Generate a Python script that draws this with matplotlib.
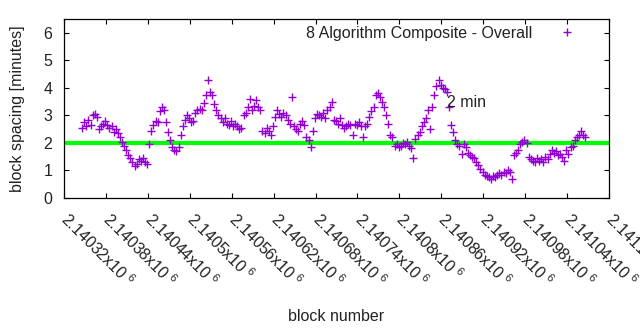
import matplotlib
matplotlib.use("Agg")
import matplotlib.pyplot as plt

plt.rcParams['font.family'] = ['Liberation Sans', 'DejaVu Sans']
plt.rcParams['mathtext.default'] = 'regular'
plt.rcParams['font.size'] = 11.5

blocks = [
    2140346, 2140349, 2140352, 2140355, 2140358, 2140361, 2140364, 2140367, 2140370, 2140373,
    2140376, 2140379, 2140382, 2140385, 2140388, 2140391, 2140394, 2140397, 2140400, 2140403,
    2140406, 2140409, 2140412, 2140415, 2140418, 2140421, 2140424, 2140427, 2140430, 2140433,
    2140436, 2140439, 2140442, 2140445, 2140448, 2140451, 2140454, 2140457, 2140460, 2140463,
    2140466, 2140469, 2140472, 2140475, 2140478, 2140481, 2140484, 2140487, 2140490, 2140493,
    2140496, 2140499, 2140502, 2140505, 2140508, 2140511, 2140514, 2140517, 2140520, 2140523,
    2140526, 2140529, 2140532, 2140535, 2140538, 2140541, 2140544, 2140547, 2140550, 2140553,
    2140556, 2140559, 2140562, 2140565, 2140568, 2140571, 2140574, 2140577, 2140580, 2140583,
    2140586, 2140589, 2140592, 2140595, 2140598, 2140601, 2140604, 2140607, 2140610, 2140613,
    2140616, 2140619, 2140622, 2140625, 2140628, 2140631, 2140634, 2140637, 2140640, 2140643,
    2140646, 2140649, 2140652, 2140655, 2140658, 2140661, 2140664, 2140667, 2140670, 2140673,
    2140676, 2140679, 2140682, 2140685, 2140688, 2140691, 2140694, 2140697, 2140700, 2140703,
    2140706, 2140709, 2140712, 2140715, 2140718, 2140721, 2140724, 2140727, 2140730, 2140733,
    2140736, 2140739, 2140742, 2140745, 2140748, 2140751, 2140754, 2140757, 2140760, 2140763,
    2140766, 2140769, 2140772, 2140775, 2140778, 2140781, 2140784, 2140787, 2140790, 2140793,
    2140796, 2140799, 2140802, 2140805, 2140808, 2140811, 2140814, 2140817, 2140820, 2140823,
    2140826, 2140829, 2140832, 2140835, 2140838, 2140841, 2140844, 2140847, 2140850, 2140853,
    2140856, 2140859, 2140862, 2140865, 2140868, 2140871, 2140874, 2140877, 2140880, 2140883,
    2140886, 2140889, 2140892, 2140895, 2140898, 2140901, 2140904, 2140907, 2140910, 2140913,
    2140916, 2140919, 2140922, 2140925, 2140928, 2140931, 2140934, 2140937, 2140940, 2140943,
    2140946, 2140949, 2140952, 2140955, 2140958, 2140961, 2140964, 2140967, 2140970, 2140973,
    2140976, 2140979, 2140982, 2140985, 2140988, 2140991, 2140994, 2140997, 2141000, 2141003,
    2141006, 2141009, 2141012, 2141015, 2141018, 2141021, 2141024, 2141027, 2141030, 2141033,
    2141036, 2141039, 2141042, 2141045, 2141048, 2141051, 2141054, 2141057, 2141060, 2141063,
    2141066,
]
spacing = [
    2.55, 2.75, 2.60, 2.85, 2.65, 3.00, 3.05, 2.95, 2.50, 2.60,
    2.70, 2.80, 2.65, 2.55, 2.60, 2.40, 2.50, 2.35, 2.20, 2.05,
    1.90, 1.75, 1.55, 1.45, 1.30, 1.15, 1.25, 1.40, 1.35, 1.45,
    1.30, 1.25, 1.95, 2.45, 2.65, 2.80, 2.75, 3.15, 3.30, 3.20,
    2.75, 2.40, 2.10, 1.85, 1.75, 1.70, 1.85, 2.30, 2.60, 2.85,
    3.00, 2.90, 2.75, 2.80, 3.10, 3.20, 3.25, 3.20, 3.45, 3.75,
    4.30, 3.85, 3.75, 3.40, 3.20, 3.00, 2.90, 2.75, 2.90, 2.70,
    2.65, 2.80, 2.60, 2.70, 2.60, 2.50, 2.55, 3.00, 3.10, 3.30,
    3.60, 3.20, 3.35, 3.55, 3.30, 3.20, 2.45, 2.35, 2.55, 2.45,
    2.30, 2.60, 2.95, 3.20, 3.05, 2.95, 3.10, 3.00, 2.85, 2.70,
    3.65, 2.60, 2.50, 2.45, 2.70, 2.80, 2.65, 2.20, 2.10, 1.85,
    2.45, 2.90, 3.05, 3.00, 2.95, 3.10, 2.90, 3.20, 3.30, 3.50,
    2.85, 2.80, 2.70, 2.90, 2.65, 2.55, 2.60, 2.70, 2.65, 2.30,
    2.70, 2.65, 2.75, 2.60, 2.20, 2.60, 2.70, 2.95, 3.15, 3.30,
    3.75, 3.80, 3.65, 3.50, 3.30, 3.00, 2.70, 2.30, 2.20, 1.90,
    1.95, 1.85, 1.90, 2.00, 1.95, 2.05, 1.90, 1.80, 1.45, 2.15,
    2.30, 2.40, 2.60, 2.75, 2.90, 3.20, 2.50, 3.30, 3.75, 4.05,
    4.30, 4.10, 4.00, 3.95, 3.85, 3.30, 2.65, 2.40, 2.10, 1.95,
    1.90, 1.60, 1.95, 1.85, 1.65, 1.55, 1.50, 1.45, 1.30, 1.20,
    1.05, 0.95, 0.85, 0.80, 0.75, 0.70, 0.80, 0.75, 0.85, 0.90,
    0.85, 0.95, 0.90, 1.00, 0.95, 0.70, 1.55, 1.65, 1.75, 1.95,
    2.05, 2.10, 2.00, 1.50, 1.40, 1.35, 1.30, 1.45, 1.35, 1.40,
    1.30, 1.50, 1.40, 1.60, 1.75, 1.65, 1.70, 1.55, 1.60, 1.50,
    1.35, 1.75, 1.60, 1.85, 1.90, 2.10, 2.20, 2.30, 2.45, 2.30,
    2.20,
]
series_label = "8 Algorithm Composite - Overall"

target_minutes = 2
target_label = "2 min"
target_label_block = 2140868
target_label_value = 3.45

x_ticks = [2140320, 2140380, 2140440, 2140500, 2140560, 2140620, 2140680,
           2140740, 2140800, 2140860, 2140920, 2140980, 2141040, 2141100]
x_tick_labels = ["%gx10$^{\\ 6}$" % (v / 1e6) for v in x_ticks]
y_ticks = [0, 1, 2, 3, 4, 5, 6]

fig = plt.figure(figsize=(6.4, 3.3), dpi=100)
ax = fig.add_axes([0.1, 0.4, 0.8516, 0.5424])

ax.plot(blocks, spacing, '+', color='#9400d3', ms=5.5, mew=1.0,
        label=series_label, zorder=3)
ax.axhline(target_minutes, color='#00ff00', lw=3.0, zorder=2)
ax.text(target_label_block, target_label_value, target_label,
        ha='left', va='center', color='#222222')

ax.set_xlim(2140320, 2141100)
ax.set_ylim(0, 6.5)
ax.set_xticks(x_ticks, labels=x_tick_labels)
ax.set_yticks(y_ticks)
plt.setp(ax.get_xticklabels(), rotation=-45, ha='left', va='center',
         rotation_mode='anchor')

ax.tick_params(direction='in', length=3.3, width=0.8, top=True, right=True,
               colors='black', labelcolor='#222222')
ax.tick_params(axis='y', pad=8.5)
ax.tick_params(axis='x', pad=13)
for s in ax.spines.values():
    s.set_linewidth(0.9)

ax.set_ylabel("block spacing [minutes]", color='#222222')
ax.yaxis.set_label_coords(-0.072, 0.5)
ax.set_xlabel("block number", color='#222222')
ax.xaxis.set_label_coords(0.5, -0.62)

ax.legend(loc='upper right', bbox_to_anchor=(0.967, 0.963), frameon=False,
          markerfirst=False, handlelength=3.0, handletextpad=0.7,
          borderpad=0, borderaxespad=0, labelcolor='#222222')

fig.savefig("out.png", dpi=100)
